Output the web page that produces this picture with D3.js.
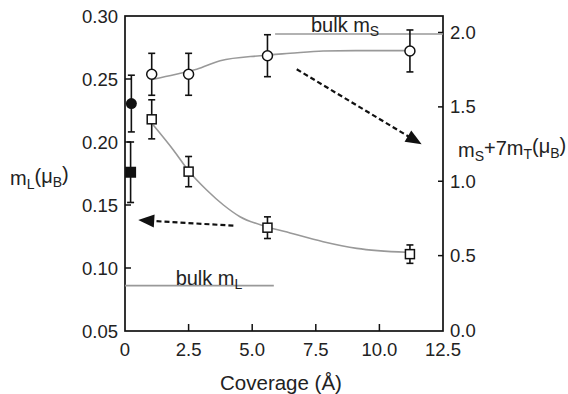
<!DOCTYPE html>
<meta charset="utf-8">
<script src="https://d3js.org/d3.v7.min.js"></script>
<style>
  body { margin: 0; background: white; }
  text { font-family: "Liberation Sans", Arial, Helvetica, sans-serif; fill: #222; }
</style>
<body>
<div id="chart"></div>
<script>
// coverage (Angstrom) and values
var circleX = [1.05, 2.5, 5.6, 11.2];          // open circles, right axis
var circleY = [1.719, 1.719, 1.844, 1.876];
var circleErr = [0.141, 0.141, 0.141, 0.141];

var squareX = [1.05, 2.5, 5.6, 11.2];          // open squares, left axis
var squareY = [0.218, 0.1765, 0.132, 0.111];
var squareErr = [0.0155, 0.012, 0.0086, 0.0073];

// filled symbols at zero coverage (left axis)
var dotX = [0.25], dotY = [0.2305], dotErr = [0.0225];
var boxX = [0.22], boxY = [0.176], boxErr = [0.024];

// gray guide curves
var circleFitX = [1.07, 1.97, 2.82, 3.74, 5.31, 6.49, 7.79, 9.1, 10.93, 11.2];
var circleFitY = [1.685, 1.718, 1.753, 1.81, 1.844, 1.86, 1.876, 1.878, 1.878, 1.878];
var squareFitX = [1.11, 1.9, 2.53, 3.21, 3.87, 4.52, 5.57, 6.49, 7.79, 9.11, 11.07];
var squareFitY = [0.2135, 0.1937, 0.1764, 0.1619, 0.15, 0.1407, 0.1328, 0.1278, 0.1209, 0.1156, 0.1125];

var bulkS = 1.99, bulkSFrom = 5.9;   // right axis
var bulkL = 0.086, bulkLTo = 5.85;   // left axis

var xTicks = [0, 2.5, 5, 7.5, 10, 12.5];
var xTickLabels = ["0", "2.5", "5.0", "7.5", "10.0", "12.5"];
var yLTicks = [0.05, 0.10, 0.15, 0.20, 0.25, 0.30];
var yRTicks = [0, 0.5, 1.0, 1.5, 2.0];

var width = 568, height = 394;
var svg = d3.select("#chart").append("svg")
    .attr("width", width).attr("height", height);

var x = d3.scaleLinear().domain([0, 12.5]).range([125, 443]);
var yL = d3.scaleLinear().domain([0.05, 0.30]).range([331, 16]);
var yR = d3.scaleLinear().domain([0, 2]).range([330, 32.5]);

// frame
svg.append("rect")
    .attr("x", x(0)).attr("y", yL(0.30))
    .attr("width", x(12.5) - x(0)).attr("height", yL(0.05) - yL(0.30))
    .attr("fill", "none").attr("stroke", "#111").attr("stroke-width", 1.7);

// inward ticks
svg.selectAll(".xt").data(xTicks.slice(1, -1)).enter().append("line")
    .attr("x1", d => x(d)).attr("x2", d => x(d))
    .attr("y1", 331).attr("y2", 324)
    .attr("stroke", "#111").attr("stroke-width", 1.5);
svg.selectAll(".ylt").data(yLTicks.slice(1, -1)).enter().append("line")
    .attr("x1", 125).attr("x2", 131)
    .attr("y1", d => yL(d)).attr("y2", d => yL(d))
    .attr("stroke", "#111").attr("stroke-width", 1.5);
svg.selectAll(".yrt").data(yRTicks.slice(1)).enter().append("line")
    .attr("x1", 438).attr("x2", 443)
    .attr("y1", d => yR(d)).attr("y2", d => yR(d))
    .attr("stroke", "#111").attr("stroke-width", 1.5);

// tick labels
svg.selectAll(".xl").data(xTicks).enter().append("text")
    .attr("x", d => x(d)).attr("y", 356)
    .attr("text-anchor", "middle").style("font-size", "18.5px")
    .text((d, i) => xTickLabels[i]);
svg.selectAll(".yll").data(yLTicks).enter().append("text")
    .attr("x", 118).attr("y", d => yL(d) + 6.5)
    .attr("text-anchor", "end").style("font-size", "18.5px")
    .text(d => d3.format(".2f")(d));
svg.selectAll(".yrl").data(yRTicks).enter().append("text")
    .attr("x", 450).attr("y", d => yR(d) + 6.5)
    .attr("text-anchor", "start").style("font-size", "18.5px")
    .text(d => d3.format(".1f")(d));

// axis titles
svg.append("text")
    .attr("x", 281).attr("y", 390)
    .attr("text-anchor", "middle").style("font-size", "20.5px")
    .text("Coverage (\u00C5)");

function subLabel(sel, parts) {
  // parts: [text, isSub]
  parts.forEach(function(p) {
    sel.append("tspan")
      .attr("dy", p[1] ? "0.3em" : (p[2] ? "-0.3em" : 0))
      .style("font-size", p[1] ? "14px" : null)
      .text(p[0]);
  });
}

var yLt = svg.append("text").attr("x", 10).attr("y", 185).style("font-size", "20px");
subLabel(yLt, [["m"], ["L", true], ["(\u03BC", false, true], ["B", true], [")", false, true]]);

var yRt = svg.append("text").attr("x", 458).attr("y", 157).style("font-size", "20px");
subLabel(yRt, [["m"], ["S", true], ["+7m", false, true], ["T", true], ["(\u03BC", false, true], ["B", true], [")", false, true]]);

// bulk reference lines
svg.append("line")
    .attr("x1", x(bulkSFrom)).attr("x2", x(12.5))
    .attr("y1", yR(bulkS)).attr("y2", yR(bulkS))
    .attr("stroke", "#999").attr("stroke-width", 1.6);
svg.append("line")
    .attr("x1", x(0)).attr("x2", x(bulkLTo))
    .attr("y1", yL(bulkL)).attr("y2", yL(bulkL))
    .attr("stroke", "#999").attr("stroke-width", 1.6);

var bS = svg.append("text").attr("x", x(7.31)).attr("y", yR(bulkS) - 2).style("font-size", "20px");
subLabel(bS, [["bulk m"], ["S", true]]);
var bL = svg.append("text").attr("x", x(1.99)).attr("y", yL(bulkL) - 1).style("font-size", "20px");
subLabel(bL, [["bulk m"], ["L", true]]);

// guide curves
var curveLine = function(xs, ys, ys_scale) {
  return d3.line().curve(d3.curveMonotoneX)
    .x((d, i) => x(xs[i])).y((d, i) => ys_scale(ys[i]))(xs);
};
svg.append("path").attr("d", curveLine(circleFitX, circleFitY, yR))
    .attr("fill", "none").attr("stroke", "#999").attr("stroke-width", 1.6);
svg.append("path").attr("d", curveLine(squareFitX, squareFitY, yL))
    .attr("fill", "none").attr("stroke", "#999").attr("stroke-width", 1.6);

// error bars
function errorBars(xs, ys, es, ys_scale) {
  var g = svg.append("g").attr("stroke", "#111").attr("stroke-width", 1.6);
  xs.forEach(function(xv, i) {
    var cx = x(xv), top = ys_scale(ys[i] + es[i]), bot = ys_scale(ys[i] - es[i]);
    g.append("line").attr("x1", cx).attr("x2", cx).attr("y1", top).attr("y2", bot);
    g.append("line").attr("x1", cx - 3.5).attr("x2", cx + 3.5).attr("y1", top).attr("y2", top);
    g.append("line").attr("x1", cx - 3.5).attr("x2", cx + 3.5).attr("y1", bot).attr("y2", bot);
  });
}
errorBars(dotX, dotY, dotErr, yL);
errorBars(boxX, boxY, boxErr, yL);
errorBars(circleX, circleY, circleErr, yR);
errorBars(squareX, squareY, squareErr, yL);

// markers
svg.selectAll(".oc").data(circleX).enter().append("circle")
    .attr("cx", d => x(d)).attr("cy", (d, i) => yR(circleY[i])).attr("r", 5)
    .attr("fill", "white").attr("stroke", "#111").attr("stroke-width", 1.5);
svg.selectAll(".os").data(squareX).enter().append("rect")
    .attr("x", d => x(d) - 4.5).attr("y", (d, i) => yL(squareY[i]) - 4.5)
    .attr("width", 9).attr("height", 9)
    .attr("fill", "white").attr("stroke", "#111").attr("stroke-width", 1.5);
svg.selectAll(".fc").data(dotX).enter().append("circle")
    .attr("cx", d => x(d)).attr("cy", (d, i) => yL(dotY[i])).attr("r", 5.5)
    .attr("fill", "#111");
svg.selectAll(".fs").data(boxX).enter().append("rect")
    .attr("x", d => x(d) - 5.5).attr("y", (d, i) => yL(boxY[i]) - 5.5)
    .attr("width", 11).attr("height", 11).attr("fill", "#111");

// dashed arrows
function arrow(x1, y1, x2, y2) {
  var dx = x2 - x1, dy = y2 - y1, len = Math.sqrt(dx * dx + dy * dy);
  var ux = dx / len, uy = dy / len, hl = 16, hw = 6.5;
  var bx = x2 - ux * hl, by = y2 - uy * hl;
  svg.append("line").attr("x1", x1).attr("y1", y1).attr("x2", bx + ux * 2).attr("y2", by + uy * 2)
      .attr("stroke", "#111").attr("stroke-width", 2.2).attr("stroke-dasharray", "5,3");
  svg.append("polygon")
      .attr("points", [[x2, y2], [bx - uy * hw, by + ux * hw], [bx + uy * hw, by - ux * hw]].join(" "))
      .attr("fill", "#111");
}
arrow(x(6.75), yR(1.753), x(11.66), yR(1.248));
arrow(x(4.26), yL(0.1336), x(0.52), yL(0.138));
</script>
</body>
